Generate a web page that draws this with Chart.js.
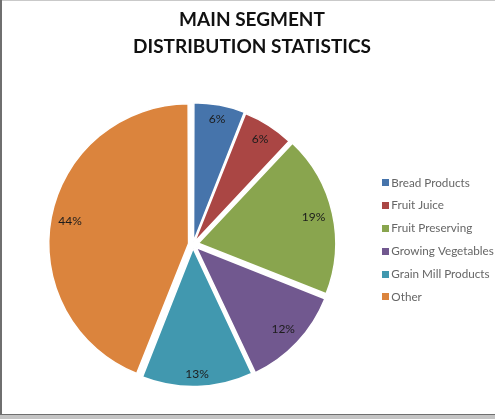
<!DOCTYPE html>
<html>
<head>
<meta charset="utf-8">
<script src="https://cdn.jsdelivr.net/npm/chart.js@4/dist/chart.umd.min.js"></script>
<style>
  html, body { margin: 0; padding: 0; background: #fff; }
  #wrap { position: relative; width: 495px; height: 419px; overflow: hidden; background: #fff; }
  #chart { position: absolute; left: 0; top: 0; }
  .ln { position: absolute; }
</style>
</head>
<body>
<div id="wrap">
  <canvas id="chart" width="495" height="414"></canvas>
  <div class="ln" style="left:0;top:0;width:495px;height:1px;background:#c9c9c9"></div>
  <div class="ln" style="left:0;top:0;width:2px;height:415px;background:#6f6f6f"></div>
  <div class="ln" style="left:0;top:414px;width:495px;height:1px;background:#6f6f6f"></div>
  <div class="ln" style="left:0;top:415px;width:495px;height:4px;background:#c4c4c4"></div>
</div>
<script>
// Segment shares (percent of total)
const categories = ['Bread Products', 'Fruit Juice', 'Fruit Preserving', 'Growing Vegetables', 'Grain Mill Products', 'Other'];
const shares = [6, 6, 19, 12, 13, 44];
const titleLines = ['MAIN SEGMENT', 'DISTRIBUTION STATISTICS'];

const sliceColors = ['#4674ab', '#aa4644', '#89a54e', '#71588f', '#4198af', '#db843d'];
// how far each slice is pulled out from the centre (Chart.js offset units)
const sliceOffsets = [12, 10, 22, 18, 16, 18];

const LABEL_FONT = '12px Lato, "DejaVu Sans", sans-serif';

// small square swatches used as legend markers
function swatch(color) {
  const c = document.createElement('canvas');
  c.width = 7; c.height = 7;
  const g = c.getContext('2d');
  g.fillStyle = color;
  g.fillRect(0, 0, 7, 7);
  return c;
}
const swatches = sliceColors.map(swatch);

// percentage labels drawn inside each slice, set just inside the rim
const sliceLabels = {
  id: 'sliceLabels',
  afterDatasetsDraw(chart) {
    const ctx = chart.ctx;
    const meta = chart.getDatasetMeta(0);
    const ds = chart.data.datasets[0];
    ctx.save();
    ctx.font = LABEL_FONT;
    ctx.fillStyle = '#1c1c1c';
    ctx.textAlign = 'center';
    ctx.textBaseline = 'middle';
    meta.data.forEach((arc, i) => {
      const p = arc.getProps(['x', 'y', 'startAngle', 'endAngle', 'outerRadius', 'circumference'], true);
      const mid = (p.startAngle + p.endAngle) / 2;
      const off = (ds.offset[i] || 0) / 4;
      const fix = 1 - Math.sin(Math.min(Math.PI, p.circumference));
      const shift = off * (1 + fix);
      const text = ds.data[i] + '%';
      const halfW = ctx.measureText(text).width / 2;
      const halfH = 6;
      const extent = Math.abs(Math.cos(mid)) * halfW + Math.abs(Math.sin(mid)) * halfH;
      const r = p.outerRadius - 6.5 - extent + shift;
      ctx.fillText(text, p.x + Math.cos(mid) * r, p.y + Math.sin(mid) * r);
    });
    ctx.restore();
  }
};

new Chart(document.getElementById('chart'), {
  type: 'pie',
  data: {
    labels: categories,
    datasets: [{
      data: shares,
      backgroundColor: sliceColors,
      borderColor: '#ffffff',
      borderWidth: 1.5,
      offset: sliceOffsets
    }]
  },
  options: {
    responsive: false,
    animation: false,
    radius: 137,
    layout: { padding: { left: 9, right: 0, top: 0, bottom: 6 } },
    plugins: {
      tooltip: { enabled: false },
      title: {
        display: true,
        text: titleLines,
        color: '#111',
        font: { family: 'Lato, "DejaVu Sans", sans-serif', size: 19, weight: 'bold', lineHeight: 1.42 },
        padding: { top: 6.5, bottom: 20.5 }
      },
      legend: {
        position: 'right',
        maxWidth: 118,
        title: {
          display: true,
          text: ' ',
          font: { size: 12 },
          padding: { top: 30, bottom: 30 }
        },
        labels: {
          usePointStyle: true,
          pointStyleWidth: 0.01,
          padding: 8.5,
          color: '#111',
          font: { family: 'Lato, "DejaVu Sans", sans-serif', size: 11.7, lineHeight: '14.3px' },
          generateLabels(chart) {
            return chart.data.labels.map((t, i) => ({
              text: [t],
              fillStyle: sliceColors[i],
              strokeStyle: sliceColors[i],
              lineWidth: 0,
              pointStyle: swatches[i],
              index: i,
              hidden: false
            }));
          }
        }
      }
    }
  },
  plugins: [sliceLabels]
});
</script>
</body>
</html>
